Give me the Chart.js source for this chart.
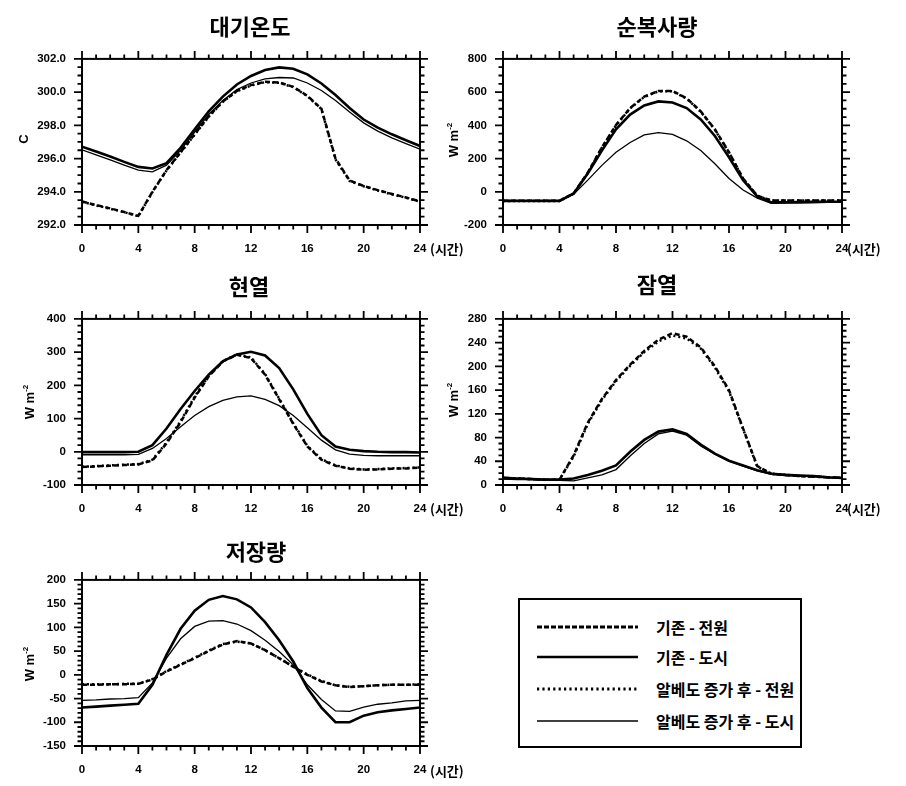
<!DOCTYPE html>
<html><head><meta charset="utf-8">
<script src="https://cdn.jsdelivr.net/npm/chart.js@4.4.0/dist/chart.umd.min.js"></script>
<style>
html,body{margin:0;padding:0;background:#fff;}
body{width:906px;height:786px;position:relative;overflow:hidden;}
canvas{position:absolute;}
.title{position:absolute;font-family:"Noto Sans CJK KR",sans-serif;font-weight:bold;font-size:22px;line-height:1;transform:translate(-50%,-50%);white-space:nowrap;color:#000;}
.unit{position:absolute;font-family:"Liberation Sans",Arial,sans-serif;font-weight:bold;font-size:13px;line-height:1;transform:translate(-50%,-50%) rotate(-90deg);white-space:nowrap;color:#000;}
.unit sup{font-size:8px;vertical-align:6px;}
.hr{position:absolute;font-family:"Noto Sans CJK KR",sans-serif;font-weight:bold;font-size:13px;line-height:1;transform:translateY(-50%);white-space:nowrap;color:#000;}
.lt{position:absolute;font-family:"Noto Sans CJK KR",sans-serif;font-weight:bold;font-size:16px;line-height:1;transform:translateY(-50%);white-space:nowrap;color:#000;}
#legendBox{position:absolute;left:518px;top:598px;width:284px;height:150px;box-sizing:border-box;border:2px solid #000;}
</style>
</head>
<body>
<canvas id="c1"></canvas><canvas id="c2"></canvas><canvas id="c3"></canvas><canvas id="c4"></canvas><canvas id="c5"></canvas>
<div id="texts"></div>
<div id="legendBox"></div>
<svg id="legendSvg" width="906" height="786" style="position:absolute;left:0;top:0;pointer-events:none"></svg>
<script>
// ---------- data ----------
const hours = [0,1,2,3,4,5,6,7,8,9,10,11,12,13,14,15,16,17,18,19,20,21,22,23,24];
const seriesNames = ["기존 - 전원", "기존 - 도시", "알베도 증가 후 - 전원", "알베도 증가 후 - 도시"];
const panelTitles = ["대기온도", "순복사량", "현열", "잠열", "저장량"];
const xTicks = [0,4,8,12,16,20,24];

// 대기온도 (air temperature)
const tempRuralBefore = [293.42,293.2,293.0,292.78,292.55,294.0,295.3,296.38,297.46,298.55,299.44,300.07,300.42,300.62,300.58,300.32,299.78,299.0,296.0,294.68,294.35,294.1,293.87,293.66,293.42];
const tempUrbanBefore = [296.72,296.42,296.12,295.8,295.5,295.4,295.72,296.65,297.76,298.84,299.73,300.46,300.97,301.33,301.49,301.41,301.07,300.52,299.83,299.04,298.35,297.86,297.46,297.1,296.76];
const tempRuralAfter  = [293.4,293.18,292.98,292.77,292.53,293.98,295.28,296.36,297.44,298.52,299.42,300.05,300.4,300.6,300.56,300.3,299.76,298.98,295.95,294.65,294.33,294.08,293.85,293.64,293.4];
const tempUrbanAfter  = [296.52,296.22,295.92,295.6,295.3,295.2,295.6,296.5,297.6,298.65,299.5,300.15,300.55,300.8,300.88,300.85,300.55,300.1,299.5,298.8,298.15,297.65,297.25,296.9,296.56];

// 순복사량 (net radiation)
const netRuralBefore = [-54,-54,-54,-54,-54,-10,115,267,402,504,573,607,607,563,484,376,238,80,-24,-52,-52,-52,-52,-52,-52];
const netUrbanBefore = [-55,-55,-55,-55,-55,-10,110,248,376,465,520,544,538,504,435,336,208,70,-28,-64,-63,-62,-61,-60,-60];
const netRuralAfter  = [-55,-55,-55,-55,-55,-11,113,265,400,502,571,605,605,561,482,374,236,78,-25,-53,-53,-53,-53,-53,-53];
const netUrbanAfter  = [-56,-56,-56,-56,-56,-15,70,159,238,297,342,356,346,307,248,169,80,11,-38,-70,-68,-66,-65,-64,-63];

// 현열 (sensible heat)
const senRuralBefore = [-46,-44,-42,-40,-38,-26,25,89,163,227,272,292,282,232,158,84,16,-24,-42,-51,-54,-53,-51,-50,-48];
const senUrbanBefore = [-1,-1,-1,-1,0,20,70,129,183,232,272,293,301,290,252,188,114,50,16,6,2,0,-1,-1,-2];
const senRuralAfter  = [-45,-43,-41,-39,-37,-24,28,92,166,229,273,293,284,234,160,86,18,-22,-41,-50,-53,-52,-50,-49,-47];
const senUrbanAfter  = [-9,-9,-9,-9,-8,10,40,75,109,136,155,165,168,158,139,109,72,35,6,-7,-11,-12,-12,-12,-12];

// 잠열 (latent heat)
const latRuralBefore = [12,11,10,9,9,50,105,145,177,203,226,245,256,250,232,200,160,95,32,19,17,15,14,13,12];
const latUrbanBefore = [12,11,10,9,9,11,17,24,33,56,76,90,94,86,68,53,41,33,25,19,17,16,15,13,12];
const latRuralAfter  = [12,11,10,9,9,48,103,143,175,201,224,242,252,247,230,198,158,94,31,19,17,15,14,13,12];
const latUrbanAfter  = [10,9,9,8,8,7,12,17,26,49,70,86,91,84,66,52,40,32,24,18,16,15,14,12,11];

// 저장량 (storage heat)
const stoRuralBefore = [-21,-21,-20,-20,-19,-10,7,21,35,50,64,71,66,52,35,17,0,-14,-22,-26,-24,-22,-21,-21,-21];
const stoUrbanBefore = [-69,-67,-65,-63,-61,-21,42,97,135,158,166,159,142,111,73,28,-28,-69,-100,-100,-86,-79,-75,-72,-69];
const stoRuralAfter  = [-20,-20,-20,-19,-19,-9,8,22,36,51,65,70,66,52,35,17,1,-13,-22,-25,-24,-22,-21,-21,-20];
const stoUrbanAfter  = [-54,-53,-51,-50,-48,-17,35,76,102,113,114,107,93,73,49,21,-21,-52,-76,-77,-68,-62,-59,-55,-54];

// ---------- styles ----------
const seriesStyles = [
  {borderWidth:2.5, borderDash:[5,3]},
  {borderWidth:2.6, borderDash:[]},
  {borderWidth:2.5, borderDash:[2,3]},
  {borderWidth:1.3, borderDash:[]}
];

function drawFrame(chart, minor, major) {
  const ctx = chart.ctx;
  const area = chart.chartArea;
  const xs = chart.scales.x, ys = chart.scales.y;
  const left = area.left, right = area.right, top = area.top, bottom = area.bottom;
  ctx.save();
  ctx.setLineDash([]);
  ctx.strokeStyle = '#000000';
  ctx.lineWidth = 1.8;
  ctx.beginPath();
  for (let h = 0; h <= 24; h++) {
    const px = xs.getPixelForValue(h);
    const len = (h % 4 === 0) ? 8 : 4.5;
    ctx.moveTo(px, top); ctx.lineTo(px, top - len);
    ctx.moveTo(px, bottom); ctx.lineTo(px, bottom + len);
  }
  const n = Math.round((ys.max - ys.min) / minor);
  for (let i = 0; i <= n; i++) {
    const v = ys.min + i * minor;
    const r = (v - ys.min) / major;
    const isMajor = Math.abs(r - Math.round(r)) < 1e-6;
    const py = ys.getPixelForValue(v);
    const len = isMajor ? 8 : 4.5;
    ctx.moveTo(left, py); ctx.lineTo(left - len, py);
    ctx.moveTo(right, py); ctx.lineTo(right + len, py);
  }
  ctx.stroke();
  ctx.lineWidth = 2;
  ctx.strokeRect(left, top, right - left, bottom - top);
  ctx.restore();
}

const tickFont = {family:'"Liberation Sans", Arial, sans-serif', weight:'bold', size:11.5};

function makeChart(id, box, area, yr, decimals, values) {
  const cv = document.getElementById(id);
  cv.width = box.w; cv.height = box.h;
  cv.style.left = box.x + 'px'; cv.style.top = box.y + 'px';
  const PL = 4, XH = 40;
  const yW = area.l - box.x - PL;
  const padTop = area.t - box.y;
  const padRight = box.x + box.w - area.r;
  const padBottom = box.y + box.h - area.b - XH;
  return new Chart(cv, {
    type: 'line',
    data: {
      datasets: values.map((vals, i) => ({
        label: seriesNames[i],
        data: hours.map((h, k) => ({x: h, y: vals[k]})),
        borderColor: '#000',
        backgroundColor: '#000',
        borderWidth: seriesStyles[i].borderWidth,
        borderDash: seriesStyles[i].borderDash,
        pointRadius: 0,
        tension: 0,
        fill: false
      }))
    },
    options: {
      responsive: false,
      animation: false,
      events: [],
      layout: {padding: {left: PL, top: padTop, right: padRight, bottom: padBottom}},
      plugins: {
        legend: {display: false},
        tooltip: {enabled: false}
      },
      scales: {
        x: {
          type: 'linear', min: 0, max: 24,
          grid: {display: false, drawTicks: false},
          border: {display: false},
          afterBuildTicks: s => { s.ticks = xTicks.map(v => ({value: v})); },
          ticks: {padding: 17, font: tickFont, color: '#000', maxRotation: 0, autoSkip: false},
          afterFit: s => { s.height = XH; }
        },
        y: {
          type: 'linear', min: yr.min, max: yr.max,
          grid: {display: false, drawTicks: false},
          border: {display: false},
          ticks: {stepSize: yr.step, padding: 16, font: tickFont, color: '#000',
                  callback: v => Number(v).toFixed(decimals)},
          afterFit: s => { s.width = yW; }
        }
      }
    },
    plugins: [{
      id: 'frame' + id,
      afterDraw(chart) { drawFrame(chart, yr.minor, yr.step); }
    }]
  });
}

makeChart('c1', {x:0, y:36, w:470, h:240}, {l:82, t:56, r:420, b:225},
  {min:292, max:302, step:2, minor:0.5}, 1,
  [tempRuralBefore, tempUrbanBefore, tempRuralAfter, tempUrbanAfter]);
makeChart('c2', {x:430, y:36, w:476, h:240}, {l:503, t:56, r:842, b:225},
  {min:-200, max:800, step:200, minor:50}, 0,
  [netRuralBefore, netUrbanBefore, netRuralAfter, netUrbanAfter]);
makeChart('c3', {x:0, y:296, w:470, h:240}, {l:82, t:316, r:420, b:485},
  {min:-100, max:400, step:100, minor:20}, 0,
  [senRuralBefore, senUrbanBefore, senRuralAfter, senUrbanAfter]);
makeChart('c4', {x:430, y:296, w:476, h:240}, {l:503, t:316, r:842, b:485},
  {min:0, max:280, step:40, minor:10}, 0,
  [latRuralBefore, latUrbanBefore, latRuralAfter, latUrbanAfter]);
makeChart('c5', {x:0, y:557, w:470, h:229}, {l:82, t:577, r:420, b:746},
  {min:-150, max:200, step:50, minor:10}, 0,
  [stoRuralBefore, stoUrbanBefore, stoRuralAfter, stoUrbanAfter]);

// ---------- texts ----------
const texts = document.getElementById('texts');
function addText(cls, html, x, y) {
  const d = document.createElement('div');
  d.className = cls; d.innerHTML = html;
  d.style.left = x + 'px'; d.style.top = y + 'px';
  texts.appendChild(d);
}
const titlePos = [[250,25],[657,25],[249,285],[657,283],[256,550]];
panelTitles.forEach((t, i) => addText('title', t, titlePos[i][0], titlePos[i][1]));
const unitPos = [[23,139,'C'],[453,140,'W m<sup>-2</sup>'],[29,402,'W m<sup>-2</sup>'],[453,400,'W m<sup>-2</sup>'],[29,664,'W m<sup>-2</sup>']];
unitPos.forEach(u => addText('unit', u[2], u[0], u[1]));
const hrPos = [[430,248],[847,248],[430,508],[847,508],[430,770]];
hrPos.forEach(p => addText('hr', '(시간)', p[0], p[1]));

// ---------- legend ----------
const svg = document.getElementById('legendSvg');
const legendY = [627, 657, 689, 721];
const legendDash = ['5 2', '', '2.2 3.2', ''];
const legendW = [3, 2.5, 3, 1.4];
seriesNames.forEach((name, i) => {
  const ln = document.createElementNS('http://www.w3.org/2000/svg', 'line');
  ln.setAttribute('x1', 537); ln.setAttribute('x2', 638);
  ln.setAttribute('y1', legendY[i]); ln.setAttribute('y2', legendY[i]);
  ln.setAttribute('stroke', '#000'); ln.setAttribute('stroke-width', legendW[i]);
  if (legendDash[i]) ln.setAttribute('stroke-dasharray', legendDash[i]);
  svg.appendChild(ln);
  addText('lt', name, 656, legendY[i]);
});
</script>
</body></html>
